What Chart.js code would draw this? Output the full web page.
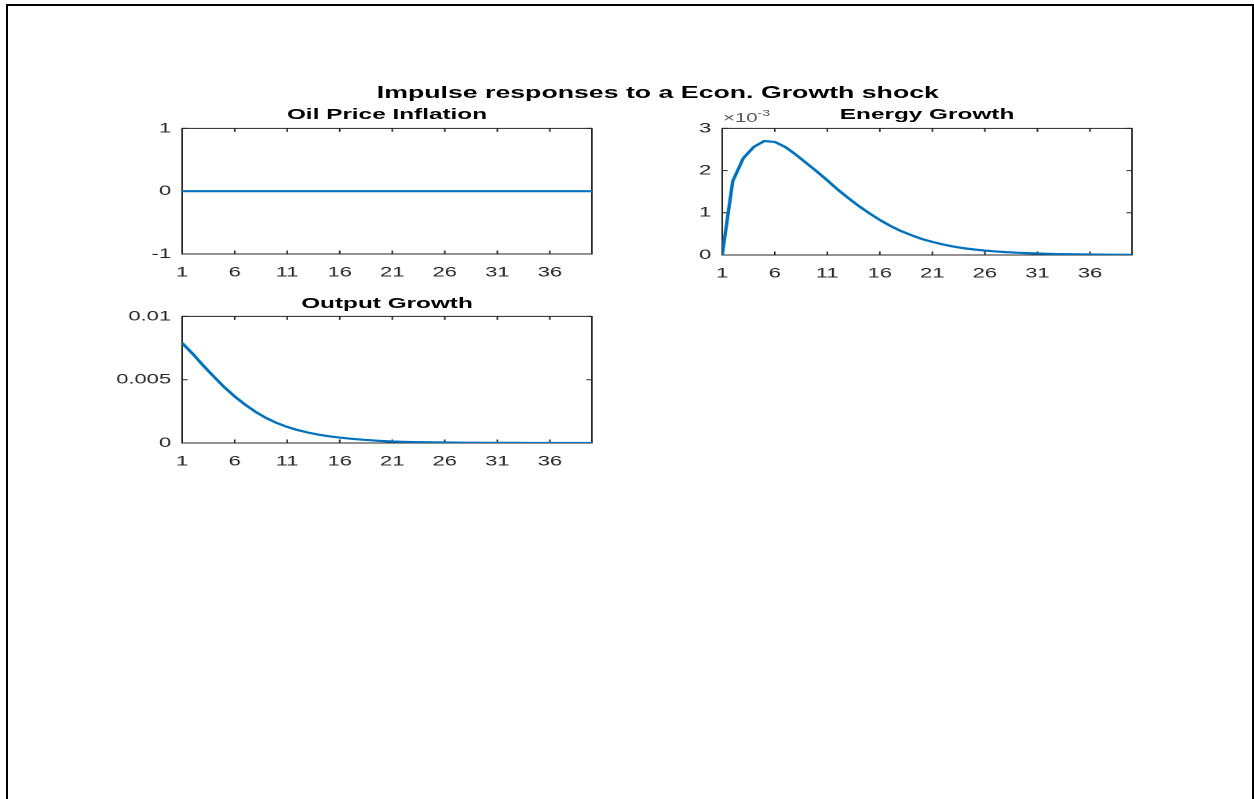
<!DOCTYPE html>
<html>
<head>
<meta charset="utf-8">
<script src="https://cdn.jsdelivr.net/npm/chart.js@4.4.1/dist/chart.umd.min.js"></script>
<style>
  html, body { margin: 0; padding: 0; background: #fff; width: 1254px; height: 799px; overflow: hidden; }
  body { font-family: "Liberation Sans", Helvetica, Arial, sans-serif; }
  .frame { position: absolute; left: 6px; top: 4px; width: 1248px; height: 840px; border: 2px solid #000; box-sizing: border-box; }
  /* the original figure is stretched sideways, so the whole figure is drawn narrow and scaled */
  #fig { position: absolute; left: 0; top: 0; width: 800px; height: 799px; transform: scaleX(1.57); transform-origin: 0 0; }
  .t { position: absolute; font-weight: bold; color: #000; line-height: 1; white-space: nowrap; transform: translateX(-50%); }
  .main { font-size: 17px; }
  .sub { font-size: 15.5px; }
  .plot { position: absolute; }
  .exp { position: absolute; font-size: 13px; line-height: 1; color: #555; white-space: nowrap; }
  .exp sup { font-size: 9px; vertical-align: 6px; line-height: 0; }
</style>
</head>
<body>
<div class="frame"></div>
<div id="fig">
  <div class="t main" style="left:419px; top:83.6px;">Impulse responses to a Econ. Growth shock</div>
  <div class="t sub" style="left:246.5px; top:105.9px;">Oil Price Inflation</div>
  <div class="t sub" style="left:590.5px; top:105.9px;">Energy Growth</div>
  <div class="t sub" style="left:246.5px; top:294.9px;">Output Growth</div>
  <div class="exp" style="left:460.5px; top:111px;">&times;10<sup>-3</sup></div>

  <div class="plot" style="left:55.9px; top:113px; width:331px; height:169px;"><canvas id="oil"></canvas></div>
  <div class="plot" style="left:399.9px; top:113px; width:331px; height:170px;"><canvas id="energy"></canvas></div>
  <div class="plot" style="left:55.9px; top:301px; width:331px; height:170px;"><canvas id="output"></canvas></div>
</div>

<script>
// horizons of the impulse responses
const periods = Array.from({ length: 40 }, (_, i) => i + 1)
const xTicks = [1, 6, 11, 16, 21, 26, 31, 36]

// responses
const oilPriceInflation = [
  0, 0, 0, 0, 0, 0, 0, 0, 0, 0,
  0, 0, 0, 0, 0, 0, 0, 0, 0, 0,
  0, 0, 0, 0, 0, 0, 0, 0, 0, 0,
  0, 0, 0, 0, 0, 0, 0, 0, 0, 0,
]
const energyGrowth = [
  0, 1.75e-3, 2.29e-3, 2.56e-3, 2.70e-3, 2.68e-3, 2.56e-3, 2.38e-3, 2.18e-3, 1.98e-3,
  1.77e-3, 1.55e-3, 1.35e-3, 1.16e-3, 0.99e-3, 0.83e-3, 0.69e-3, 0.57e-3, 0.47e-3, 0.38e-3,
  0.31e-3, 0.25e-3, 0.20e-3, 0.16e-3, 0.13e-3, 0.105e-3, 0.085e-3, 0.068e-3, 0.055e-3, 0.044e-3,
  0.035e-3, 0.028e-3, 0.022e-3, 0.018e-3, 0.014e-3, 0.011e-3, 0.009e-3, 0.007e-3, 0.006e-3, 0.005e-3,
]
const outputGrowth = [
  0.0079, 0.00705, 0.00613, 0.00526, 0.00442, 0.00368, 0.00303, 0.00245, 0.00197, 0.00158,
  0.00127, 0.00102, 0.00082, 0.00066, 0.00053, 0.00043, 0.00034, 0.00027, 0.00021, 0.00016,
  0.00012, 0.000095, 0.000075, 0.00006, 0.000047, 0.000037, 0.00003, 0.000024, 0.000019, 0.000015,
  0.000012, 0.0000095, 0.0000075, 0.000006, 0.0000047, 0.0000037, 0.000003, 0.0000024, 0.0000019, 0.0000015,
]

// y tick values
const oilTicks = [-1, 0, 1]
const energyTicks = [0, 0.001, 0.002, 0.003]
const outputTicks = [0, 0.005, 0.01]

const AXIS = "#262626"
const TICK = 3.5

// MATLAB style box with inward ticks on all four sides
const boxPlugin = {
  id: "matlabBox",
  beforeDatasetsDraw(chart) {
    const { ctx, chartArea: a, scales } = chart
    ctx.save()
    ctx.strokeStyle = AXIS
    ctx.lineWidth = 1
    ctx.strokeRect(a.left, a.top, a.width, a.height)
    ctx.beginPath()
    scales.x.ticks.forEach((t) => {
      const px = scales.x.getPixelForValue(t.value)
      ctx.moveTo(px, a.bottom)
      ctx.lineTo(px, a.bottom - TICK)
      ctx.moveTo(px, a.top)
      ctx.lineTo(px, a.top + TICK)
    })
    scales.y.ticks.forEach((t) => {
      const py = scales.y.getPixelForValue(t.value)
      ctx.moveTo(a.left, py)
      ctx.lineTo(a.left + TICK, py)
      ctx.moveTo(a.right, py)
      ctx.lineTo(a.right - TICK, py)
    })
    ctx.stroke()
    ctx.restore()
  },
}

function makeChart(id, values, yTicks, yMin, yMax, fmt) {
  return new Chart(document.getElementById(id), {
    type: "line",
    data: {
      datasets: [
        {
          data: periods.map((p, i) => ({ x: p, y: values[i] })),
          borderColor: "#0072BD",
          borderWidth: 2.2,
          pointRadius: 0,
          tension: 0,
          fill: false,
        },
      ],
    },
    options: {
      responsive: true,
      maintainAspectRatio: false,
      animation: false,
      devicePixelRatio: 2,
      layout: { padding: { top: 0, right: 10, left: 0, bottom: 0 } },
      plugins: { legend: { display: false }, title: { display: false }, tooltip: { enabled: false } },
      scales: {
        x: {
          type: "linear",
          min: 1,
          max: 40,
          grid: { display: false, drawTicks: false },
          border: { display: false },
          afterBuildTicks: (s) => { s.ticks = xTicks.map((v) => ({ value: v })) },
          afterFit: (s) => { s.height = 28 },
          ticks: {
            color: AXIS,
            padding: 10,
            maxRotation: 0,
            autoSkip: false,
            font: { family: "Liberation Sans", size: 14 },
            callback: (v) => String(v),
          },
        },
        y: {
          min: yMin,
          max: yMax,
          grid: { display: false, drawTicks: false },
          border: { display: false },
          afterBuildTicks: (s) => { s.ticks = yTicks.map((v) => ({ value: v })) },
          afterFit: (s) => { s.width = 60 },
          ticks: {
            color: AXIS,
            padding: 7,
            autoSkip: false,
            font: { family: "Liberation Sans", size: 14 },
            callback: fmt,
          },
        },
      },
    },
    plugins: [boxPlugin],
  })
}

makeChart("oil", oilPriceInflation, oilTicks, -1, 1, (v) => String(v))
makeChart("energy", energyGrowth, energyTicks, 0, 0.003, (v) => String(Math.round(v * 1000)))
makeChart("output", outputGrowth, outputTicks, 0, 0.01, (v) => String(+v.toFixed(3)))
</script>
</body>
</html>
